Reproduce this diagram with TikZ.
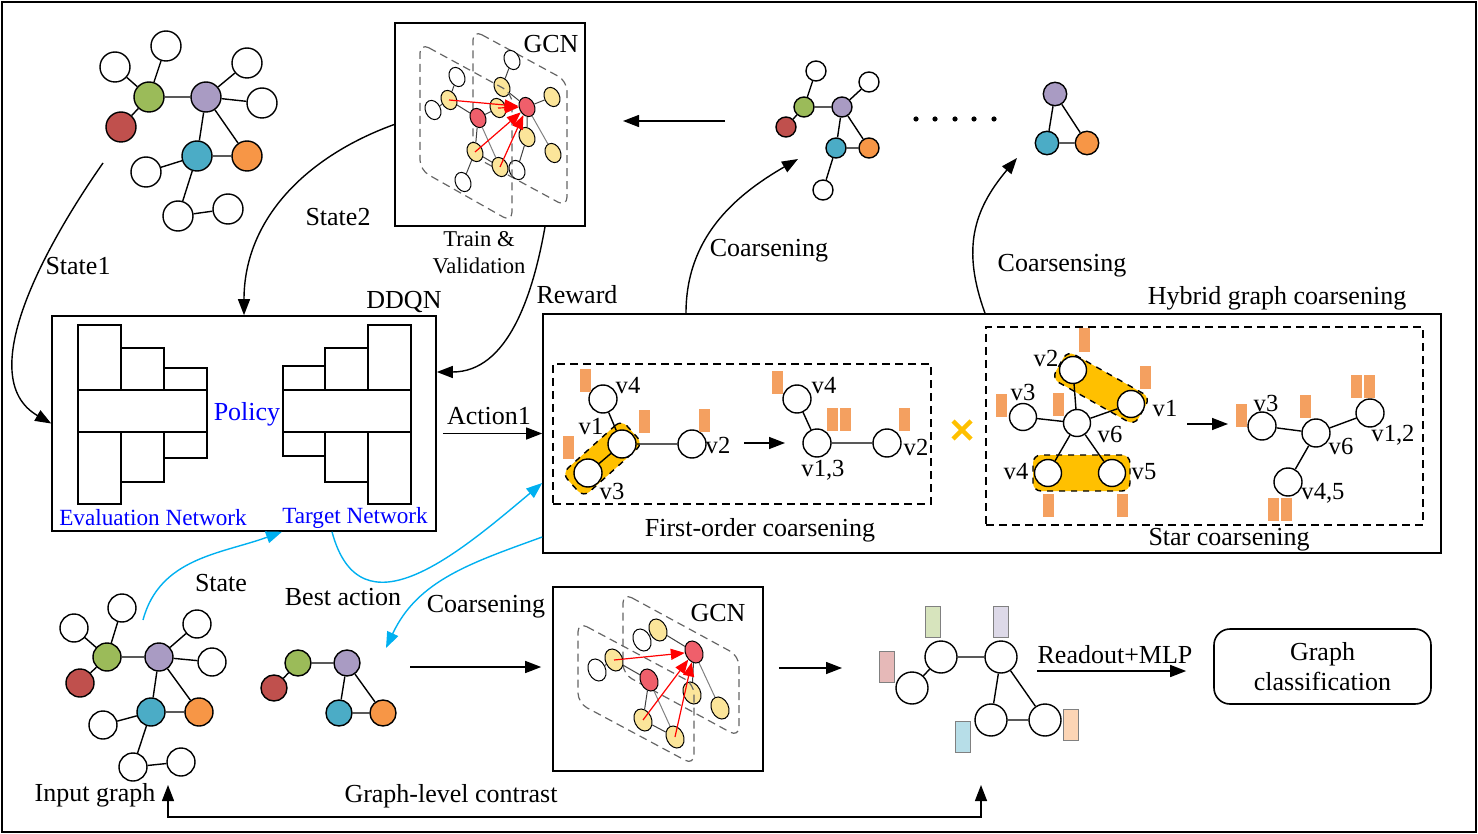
\documentclass[tikz,border=0pt]{standalone}
\usepackage{fontspec}
\setmainfont{Liberation Serif}
\usepackage{tikz}
\usetikzlibrary{shapes.geometric, arrows.meta, positioning}

\definecolor{gnode}{HTML}{9BBB59}
\definecolor{rnode}{HTML}{C0504D}
\definecolor{pnode}{HTML}{A99BC3}
\definecolor{cnode}{HTML}{4BACC6}
\definecolor{onode}{HTML}{F79646}
\definecolor{featc}{HTML}{F4A060}
\definecolor{hilite}{HTML}{FFC000}
\definecolor{gcny}{HTML}{FBE59A}
\definecolor{gcnr}{HTML}{EF5F6B}
\definecolor{skyl}{HTML}{00B0F0}
\definecolor{netblue}{HTML}{0000FF}
\definecolor{fgreen}{HTML}{D7E4BD}
\definecolor{fpurple}{HTML}{DDD9E8}
\definecolor{fpink}{HTML}{E6B9B8}
\definecolor{fblue}{HTML}{B7DEE8}
\definecolor{fpeach}{HTML}{FCD5B5}

\begin{document}
\begin{tikzpicture}[
    x=0.5pt, y=-0.5pt,
    every node/.style={font=\fontsize{13}{15}\selectfont},
    vtx/.style={circle, draw, line width=0.7pt, inner sep=0pt, minimum size=#1},
    vtx/.default=15pt,
    lnk/.style={line width=0.7pt},
    arr/.style={-{Triangle[length=8pt, width=6pt]}, line width=0.7pt},
    carr/.style={arr, skyl},
    rarr/.style={-{Triangle[length=7pt, width=5.5pt]}, line width=0.6pt, red},
    feat/.style={fill=featc, minimum width=5.5pt, minimum height=11.5pt, inner sep=0pt},
    rfeat/.style={draw=gray, line width=0.4pt, fill=#1, minimum width=7.5pt, minimum height=15.5pt, inner sep=0pt},
    hl/.style={draw, dashed, fill=hilite, rounded corners=4pt, inner sep=0pt, line width=0.7pt},
    box/.style={draw, line width=0.8pt, inner sep=0pt},
    dbox/.style={draw, dash pattern=on 4pt off 2.5pt, line width=0.8pt, inner sep=0pt},
    blk/.style={draw, line width=0.8pt, fill=white},
    layer/.style={draw=black!60, dash pattern=on 4pt off 2.5pt, rounded corners=5pt, line width=0.6pt},
    gw/.style={ellipse, draw, line width=0.5pt, inner sep=0pt, minimum width=7.5pt, minimum height=10pt, rotate=25, fill=white},
    gy/.style={gw, fill=gcny},
    gr/.style={gw, fill=gcnr},
    gbig/.style={minimum width=8.5pt, minimum height=11.5pt},
    glnk/.style={line width=0.5pt, black!75},
    vlab/.style={font=\fontsize{12.3}{14}\selectfont, inner sep=0pt},
    small/.style={font=\fontsize{11.3}{13.5}\selectfont}
]

\useasboundingbox (0,0) rectangle (1478,834);
\draw[line width=0.8pt] (2,2) rectangle (1476,832);

\node[box, minimum width=192pt, minimum height=107.5pt] (DDQN) at (244,423.5) {};
\node[box, minimum width=449pt, minimum height=119.5pt] (HY) at (992,433.5) {};
\node[box, minimum width=95pt, minimum height=101.5pt] (TG) at (490,124.5) {};
\node[box, minimum width=105pt, minimum height=92pt] (BG) at (658,679) {};
\node[box, rounded corners=8pt, minimum width=108.5pt, minimum height=37.5pt, align=center] (GC) at (1322.5,666.5) {Graph\\classification};
\node[dbox, minimum width=189pt, minimum height=70pt] (FO) at (742,434) {};
\node[dbox, minimum width=218.5pt, minimum height=99pt] (SC) at (1204.5,426) {};

\node[vtx, fill=white] (A1) at (166,46) {};
\node[vtx, fill=white] (A2) at (115,67) {};
\node[vtx, fill=gnode] (A3) at (149,97) {};
\node[vtx, fill=rnode] (A4) at (121,127) {};
\node[vtx, fill=pnode] (A5) at (206,97) {};
\node[vtx, fill=white] (A6) at (247,63) {};
\node[vtx, fill=white] (A7) at (262,103) {};
\node[vtx, fill=cnode] (A8) at (197,156) {};
\node[vtx, fill=onode] (A9) at (247,156) {};
\node[vtx, fill=white] (A10) at (146,172) {};
\node[vtx, fill=white] (A11) at (178,216) {};
\node[vtx, fill=white] (A12) at (228,209) {};
\draw[lnk] (A3) -- (A1) (A3) -- (A2) (A3) -- (A4) (A3) -- (A5) (A5) -- (A6) (A5) -- (A7)
           (A5) -- (A8) (A5) -- (A9) (A8) -- (A9) (A8) -- (A10) (A8) -- (A11) (A11) -- (A12);

\node[vtx=14pt, fill=white] (I1) at (122,608) {};
\node[vtx=14pt, fill=white] (I2) at (74,628) {};
\node[vtx=14pt, fill=gnode] (I3) at (107,657) {};
\node[vtx=14pt, fill=rnode] (I4) at (80,683) {};
\node[vtx=14pt, fill=pnode] (I5) at (159,657) {};
\node[vtx=14pt, fill=white] (I6) at (197,624) {};
\node[vtx=14pt, fill=white] (I7) at (212,662) {};
\node[vtx=14pt, fill=cnode] (I8) at (151,712) {};
\node[vtx=14pt, fill=onode] (I9) at (199,712) {};
\node[vtx=14pt, fill=white] (I10) at (103,725) {};
\node[vtx=14pt, fill=white] (I11) at (133,767) {};
\node[vtx=14pt, fill=white] (I12) at (181,762) {};
\draw[lnk] (I3) -- (I1) (I3) -- (I2) (I3) -- (I4) (I3) -- (I5) (I5) -- (I6) (I5) -- (I7)
           (I5) -- (I8) (I5) -- (I9) (I8) -- (I9) (I8) -- (I10) (I8) -- (I11) (I11) -- (I12);

\node[vtx=10pt, fill=white] (S1) at (816,71) {};
\node[vtx=10pt, fill=white] (S2) at (869,82) {};
\node[vtx=10pt, fill=gnode] (S3) at (804,107) {};
\node[vtx=10pt, fill=rnode] (S4) at (786,127) {};
\node[vtx=10pt, fill=pnode] (S5) at (842,107) {};
\node[vtx=10pt, fill=cnode] (S6) at (836,148) {};
\node[vtx=10pt, fill=onode] (S7) at (869,148) {};
\node[vtx=10pt, fill=white] (S8) at (823,190) {};
\draw[lnk] (S3) -- (S1) (S3) -- (S4) (S3) -- (S5) (S5) -- (S2) (S5) -- (S6) (S5) -- (S7)
           (S6) -- (S7) (S6) -- (S8);

\node[vtx=11.7pt, fill=pnode] (R1) at (1055,94) {};
\node[vtx=11.7pt, fill=cnode] (R2) at (1047,143) {};
\node[vtx=11.7pt, fill=onode] (R3) at (1087,143) {};
\draw[lnk] (R1) -- (R2) (R1) -- (R3) (R2) -- (R3);

\node[vtx=13pt, fill=gnode] (P1) at (298,663) {};
\node[vtx=13pt, fill=rnode] (P2) at (274,688) {};
\node[vtx=13pt, fill=pnode] (P3) at (347,663) {};
\node[vtx=13pt, fill=cnode] (P4) at (339,713) {};
\node[vtx=13pt, fill=onode] (P5) at (383,713) {};
\draw[lnk] (P1) -- (P2) (P1) -- (P3) (P3) -- (P4) (P3) -- (P5) (P4) -- (P5);

\coordinate (dd) at (725,121);
\coordinate (de) at (623,121);
\draw[arr] (dd) -- (de);
\fill (916,119) circle (1.3pt) (935,119) circle (1.3pt) (955,119) circle (1.3pt)
      (974,119) circle (1.3pt) (994,119) circle (1.3pt);

\draw[layer] (473,30) -- (567,81) -- (567,207) -- (473,156) -- cycle;
\node[gw] (T9) at (512,60) {};
\node[gy] (T10) at (502,87) {};
\node[gr] (T11) at (527,107) {};
\node[gy] (T12) at (552,97) {};
\node[gy] (T13) at (527,137) {};
\node[gy] (T14) at (553,153) {};
\node[gw] (T15) at (517,170) {};
\draw[glnk] (T9) -- (T10) (T10) -- (T11) (T11) -- (T12) (T11) -- (T13) (T13) -- (T15);
\draw[glnk, gray] (T11) -- (T14);
\draw[layer] (420,43) -- (512,93) -- (512,222) -- (420,170) -- cycle;
\node[gw] (T1) at (433,110) {};
\node[gw] (T2) at (457,77) {};
\node[gy] (T3) at (449,100) {};
\node[gr] (T4) at (478,118) {};
\node[gy] (T5) at (498,108) {};
\node[gy] (T6) at (475,152) {};
\node[gy] (T7) at (500,167) {};
\node[gw] (T8) at (463,182) {};
\draw[glnk] (T1) -- (T3) (T2) -- (T3) (T3) -- (T4) (T4) -- (T5) (T4) -- (T6) (T6) -- (T7) (T6) -- (T8);
\draw[glnk, gray] (T4) -- (T7);
\draw[rarr] (T3.center) -- (T11);
\draw[rarr] (T5.center) -- (T11);
\draw[rarr] (T6.center) -- (T11);
\draw[rarr] (T7.center) -- (T11);
\node (gcn1) at (551,44) {GCN};

\draw[layer] (623,593) -- (739,656) -- (739,737) -- (623,674) -- cycle;
\node[gw, gbig] (B6) at (642,640) {};
\node[gy, gbig] (B7) at (658,630) {};
\node[gr, gbig] (B8) at (694,652) {};
\node[gy, gbig] (B9) at (692,693) {};
\node[gy, gbig] (B10) at (720,708) {};
\draw[glnk] (B6) -- (B7) (B7) -- (B8) (B8) -- (B9);
\draw[glnk, gray] (B8) -- (B10);
\draw[layer] (578,622) -- (694,684) -- (694,765) -- (578,703) -- cycle;
\node[gw, gbig] (B1) at (597,670) {};
\node[gy, gbig] (B2) at (614,660) {};
\node[gr, gbig] (B3) at (649,680) {};
\node[gy, gbig] (B4) at (643,720) {};
\node[gy, gbig] (B5) at (675,737) {};
\draw[glnk] (B1) -- (B2) (B2) -- (B3) (B3) -- (B4) (B4) -- (B5);
\draw[glnk, gray] (B3) -- (B5);
\draw[rarr] (B2.center) -- (B8);
\draw[rarr] (B4.center) -- (B8);
\draw[rarr] (B5.center) -- (B8);
\node (gcn2) at (718,613) {GCN};

\draw[blk] (78,325) rectangle (121,504);
\draw[blk] (121,348) rectangle (164,482);
\draw[blk] (164,368) rectangle (207,458);
\draw[blk] (78,390) rectangle (207,432);
\draw[blk] (283,366) rectangle (325,456);
\draw[blk] (325,348) rectangle (368,482);
\draw[blk] (368,325) rectangle (411,504);
\draw[blk] (283,390) rectangle (411,432);
\node[text=netblue] (pol) at (247,414) {Policy};
\node[text=netblue, font=\fontsize{11.6}{14}\selectfont] (evn) at (153,518) {Evaluation Network};
\node[text=netblue, font=\fontsize{11.6}{14}\selectfont] (tgn) at (355,518) {Target Network};
\node (ddq) at (404,302) {DDQN};

\node[hl, minimum width=40pt, minimum height=16pt, rotate=42] (H1) at (602.5,458.5) {};
\node[vtx=14pt, fill=white] (F4) at (603,399) {};
\node[vtx=14pt, fill=white] (F1) at (622,444) {};
\node[vtx=14pt, fill=white] (F3) at (588,473) {};
\node[vtx=14pt, fill=white] (F2) at (692,444) {};
\draw[lnk] (F4) -- (F1) (F1) -- (F3) (F1) -- (F2);
\node[vtx=14pt, fill=white] (G4) at (797,399) {};
\node[vtx=14pt, fill=white] (G13) at (817,443) {};
\node[vtx=14pt, fill=white] (G2) at (887,443) {};
\draw[lnk] (G4) -- (G13) (G13) -- (G2);
\node[feat] (q1) at (585,380) {};
\node[feat] (q2) at (644,421) {};
\node[feat] (q3) at (568,447) {};
\node[feat] (q4) at (704,420) {};
\node[feat] (q5) at (777,382) {};
\node[feat] (q6) at (832,419) {};
\node[feat] (q7) at (845,419) {};
\node[feat] (q8) at (904,419) {};
\node[vlab] (lF4) at (628,386) {v4};
\node[vlab] (lF1) at (591,426) {v1};
\node[vlab] (lF3) at (612,491) {v3};
\node[vlab] (lF2) at (718,445) {v2};
\node[vlab] (lG4) at (824,386) {v4};
\node[vlab] (lG13) at (823,470) {v1,3};
\node[vlab] (lG2) at (916,447) {v2};
\coordinate (fo1) at (744,443);
\coordinate (fo2) at (785,443);
\draw[arr] (fo1) -- (fo2);

\draw[hilite, line width=2.2pt] (953,421) -- (971,439) (953,439) -- (971,421);

\node[hl, minimum width=47.5pt, minimum height=16pt, rotate=-29.5] (H2) at (1101,388) {};
\node[hl, minimum width=48.5pt, minimum height=18pt] (H3) at (1081.5,473) {};
\node[vtx=13.5pt, fill=white] (X2) at (1073,370) {};
\node[vtx=13.5pt, fill=white] (X1) at (1131,404) {};
\node[vtx=13.5pt, fill=white] (X3) at (1023,417) {};
\node[vtx=13.5pt, fill=white] (X6) at (1077,423) {};
\node[vtx=13.5pt, fill=white] (X4) at (1048,473) {};
\node[vtx=13.5pt, fill=white] (X5) at (1112,473) {};
\draw[lnk] (X6) -- (X2) (X6) -- (X1) (X6) -- (X3) (X6) -- (X4) (X6) -- (X5);
\node[vtx=14pt, fill=white] (Y3) at (1262,426) {};
\node[vtx=14pt, fill=white] (Y6) at (1316,433) {};
\node[vtx=14pt, fill=white] (Y12) at (1370,413) {};
\node[vtx=14pt, fill=white] (Y45) at (1288,482) {};
\draw[lnk] (Y3) -- (Y6) (Y6) -- (Y12) (Y6) -- (Y45);
\node[feat] (q9) at (1084,340) {};
\node[feat] (q10) at (1145,377) {};
\node[feat] (q11) at (1001,405) {};
\node[feat] (q12) at (1058,404) {};
\node[feat] (q13) at (1048,505) {};
\node[feat] (q14) at (1122,505) {};
\node[feat] (q15) at (1241,415) {};
\node[feat] (q16) at (1305,406) {};
\node[feat] (q17) at (1356,386) {};
\node[feat] (q18) at (1369,386) {};
\node[feat] (q19) at (1273,509) {};
\node[feat] (q20) at (1286,509) {};
\node[vlab] (lX2) at (1046,358) {v2};
\node[vlab] (lX1) at (1165,408) {v1};
\node[vlab] (lX3) at (1023,392) {v3};
\node[vlab] (lX6) at (1110,434) {v6};
\node[vlab] (lX4) at (1016,472) {v4};
\node[vlab] (lX5) at (1144,472) {v5};
\node[vlab] (lY3) at (1266,403) {v3};
\node[vlab] (lY6) at (1341,446) {v6};
\node[vlab] (lY12) at (1393,435) {v1,2};
\node[vlab] (lY45) at (1323,493) {v4,5};
\coordinate (so1) at (1187,424);
\coordinate (so2) at (1228,424);
\draw[arr] (so1) -- (so2);

\node[vtx=16pt, fill=white] (Z1) at (941,657) {};
\node[vtx=16pt, fill=white] (Z2) at (1001,657) {};
\node[vtx=16pt, fill=white] (Z3) at (912,688) {};
\node[vtx=16pt, fill=white] (Z4) at (991,720) {};
\node[vtx=16pt, fill=white] (Z5) at (1045,720) {};
\draw[lnk] (Z1) -- (Z2) (Z1) -- (Z3) (Z2) -- (Z4) (Z2) -- (Z5) (Z4) -- (Z5);
\node[rfeat=fgreen] (Q1) at (933,622) {};
\node[rfeat=fpurple] (Q2) at (1001,622) {};
\node[rfeat=fpink] (Q3) at (887,667) {};
\node[rfeat=fblue] (Q4) at (963,737) {};
\node[rfeat=fpeach] (Q5) at (1071,725) {};

\coordinate (s1) at (103,163);
\draw[arr] (s1) to[out=235, in=150, looseness=0.9] (DDQN.west);
\draw[arr] (TG.west) to[out=200, in=90] (DDQN.north);
\draw[arr] ([xshift=27.5pt]TG.south) to[out=-100, in=0] ([yshift=25.75pt]DDQN.east);
\draw[arr] ([xshift=3pt]HY.west -| DDQN.east) -- (HY.west);
\coordinate (c1) at (798,159);
\coordinate (c2) at (1017,158);
\draw[arr] ([xshift=-153pt]HY.north) to[out=90, in=210] (c1);
\draw[arr] ([xshift=-3.5pt]HY.north) to[out=110, in=230, looseness=1.1] (c2);

\coordinate (sb) at (143,620);
\coordinate (ba) at (386,648);
\draw[carr] (sb) to[out=75, in=200] ([xshift=19pt]DDQN.south);
\draw[carr] ([xshift=44pt]DDQN.south) to[out=-75, in=220, looseness=1.3] ([yshift=-24.75pt]HY.west);
\draw[carr] ([yshift=-51.75pt]HY.west) to[out=200, in=65] (ba);

\coordinate (ca) at (410,667);
\draw[arr] (ca) -- ([xshift=-5.5pt, yshift=6pt]BG.west);
\coordinate (fg) at (842,668);
\draw[arr] ([xshift=7.5pt, yshift=5.5pt]BG.east) -- (fg);
\coordinate (ra) at (1037,671);
\draw[arr] (ra) -- ([xshift=-13.5pt, yshift=-2.25pt]GC.west);

\coordinate (gla) at (168,785);
\coordinate (glm) at (575,817);
\coordinate (glb) at (981,785);
\draw[{Triangle[length=8pt, width=6pt]}-{Triangle[length=8pt, width=6pt]}, line width=0.7pt] (gla) |- (glm) -| (glb);

\node (st1) at (78,266) {State1};
\node (st2) at (338,217) {State2};
\node[small, align=center] (trv) at (479,253) {Train \&\\Validation};
\node (rew) at (577,295) {Reward};
\node (act) at (489,416) {Action1};
\node (co1) at (769,251) {Coarsening};
\node (co2) at (1062,266) {Coarsensing};
\node (hgc) at (1277,298) {Hybrid graph coarsening};
\node (foc) at (760,530) {First-order coarsening};
\node (stc) at (1229,540) {Star coarsening};
\node (sta) at (221,583) {State};
\node (bea) at (343,597) {Best action};
\node (co3) at (486,607) {Coarsening};
\node (ro) at (1115,655) {Readout+MLP};
\node (inp) at (95,795) {Input graph};
\node (glc) at (451,796) {Graph-level contrast};

\end{tikzpicture}
\end{document}
